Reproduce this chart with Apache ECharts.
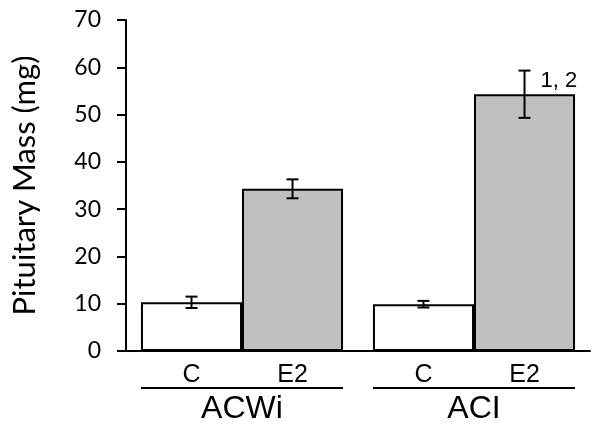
<!DOCTYPE html>
<html>
<head>
<meta charset="utf-8">
<script src="https://cdn.jsdelivr.net/npm/echarts@6/dist/echarts.min.js"></script>
<style>html,body{margin:0;padding:0;background:#fff}#c{width:600px;height:432px}</style>
</head>
<body>
<div id="c"></div>
<script>
var groups = ['ACWi', 'ACI'];
var treatments = ['C', 'E2'];
var valuesC = [10.3, 9.9];
var valuesE2 = [34.3, 54.3];
var errC = [1.2, 0.7];
var errE2 = [2.0, 5.0];
var annotC = ['', ''];
var annotE2 = ['', '1, 2'];
var yTicks = [0, 10, 20, 30, 40, 50, 60, 70];

var CAT_GAP = 0.129;

var errData = [];
groups.forEach(function (g, i) {
  errData.push([i, valuesC[i], errC[i], 0, annotC[i]]);
  errData.push([i, valuesE2[i], errE2[i], 1, annotE2[i]]);
});

var chart = echarts.init(document.getElementById('c'), null, {renderer: 'canvas'});
chart.setOption({
  animation: false,
  grid: {left: 126, right: 10, top: 20, bottom: 81, containLabel: false},
  xAxis: {
    type: 'category',
    data: groups,
    axisLine: {lineStyle: {color: '#000', width: 2}},
    axisTick: {show: false},
    axisLabel: {color: '#000', fontFamily: 'Liberation Sans', fontSize: 32, margin: 42}
  },
  yAxis: {
    type: 'value',
    min: yTicks[0], max: yTicks[yTicks.length - 1], interval: 10,
    name: 'Pituitary Mass (mg)',
    nameLocation: 'middle',
    nameGap: 86,
    nameTextStyle: {color: '#000', fontFamily: 'Lato', fontSize: 31},
    axisLine: {show: true, lineStyle: {color: '#000', width: 2}},
    axisTick: {show: true, length: 9, lineStyle: {color: '#000', width: 2}},
    axisLabel: {color: '#000', fontFamily: 'Lato', fontSize: 23, margin: 25},
    splitLine: {show: false}
  },
  series: [
    {
      name: treatments[0], type: 'bar', data: valuesC,
      barGap: '0%', barCategoryGap: (CAT_GAP * 100) + '%',
      itemStyle: {color: '#ffffff', borderColor: '#000', borderWidth: 2},
      label: {show: true, position: 'bottom', distance: 12, formatter: treatments[0],
        color: '#000', fontFamily: 'Liberation Sans', fontSize: 25}
    },
    {
      name: treatments[1], type: 'bar', data: valuesE2,
      barGap: '0%', barCategoryGap: (CAT_GAP * 100) + '%',
      itemStyle: {color: '#c0c0c0', borderColor: '#000', borderWidth: 2},
      label: {show: true, position: 'bottom', distance: 12, formatter: treatments[1],
        color: '#000', fontFamily: 'Liberation Sans', fontSize: 25}
    },
    {
      type: 'custom', z: 10,
      data: errData,
      renderItem: function (params, api) {
        var cat = api.value(0), v = api.value(1), e = api.value(2), s = api.value(3);
        var band = api.size([1, 0])[0];
        var bw = band * (1 - CAT_GAP) / 2;
        var c = api.coord([cat, v]);
        var x = c[0] + (s === 0 ? -bw / 2 : bw / 2);
        var top = api.coord([cat, v + e])[1];
        var bot = api.coord([cat, v - e])[1];
        var cap = 6;
        var st = {stroke: '#000', lineWidth: 2};
        var children = [
          {type: 'line', shape: {x1: x, y1: top, x2: x, y2: bot}, style: st},
          {type: 'line', shape: {x1: x - cap, y1: top, x2: x + cap, y2: top}, style: st},
          {type: 'line', shape: {x1: x - cap, y1: bot, x2: x + cap, y2: bot}, style: st}
        ];
        var txt = errData[params.dataIndex][4];
        if (txt) {
          children.push({type: 'text', x: x + 16, y: top + 10,
            style: {text: txt, fill: '#000', font: '22px "Liberation Sans"', textVerticalAlign: 'middle'}});
        }
        if (s === 0) {
          var base = api.coord([cat, 0]);
          var ly = base[1] + 37;
          children.push({type: 'line', shape: {x1: base[0] - bw, y1: ly, x2: base[0] + bw, y2: ly}, style: st});
        }
        return {type: 'group', children: children};
      }
    }
  ]
});
</script>
</body>
</html>
